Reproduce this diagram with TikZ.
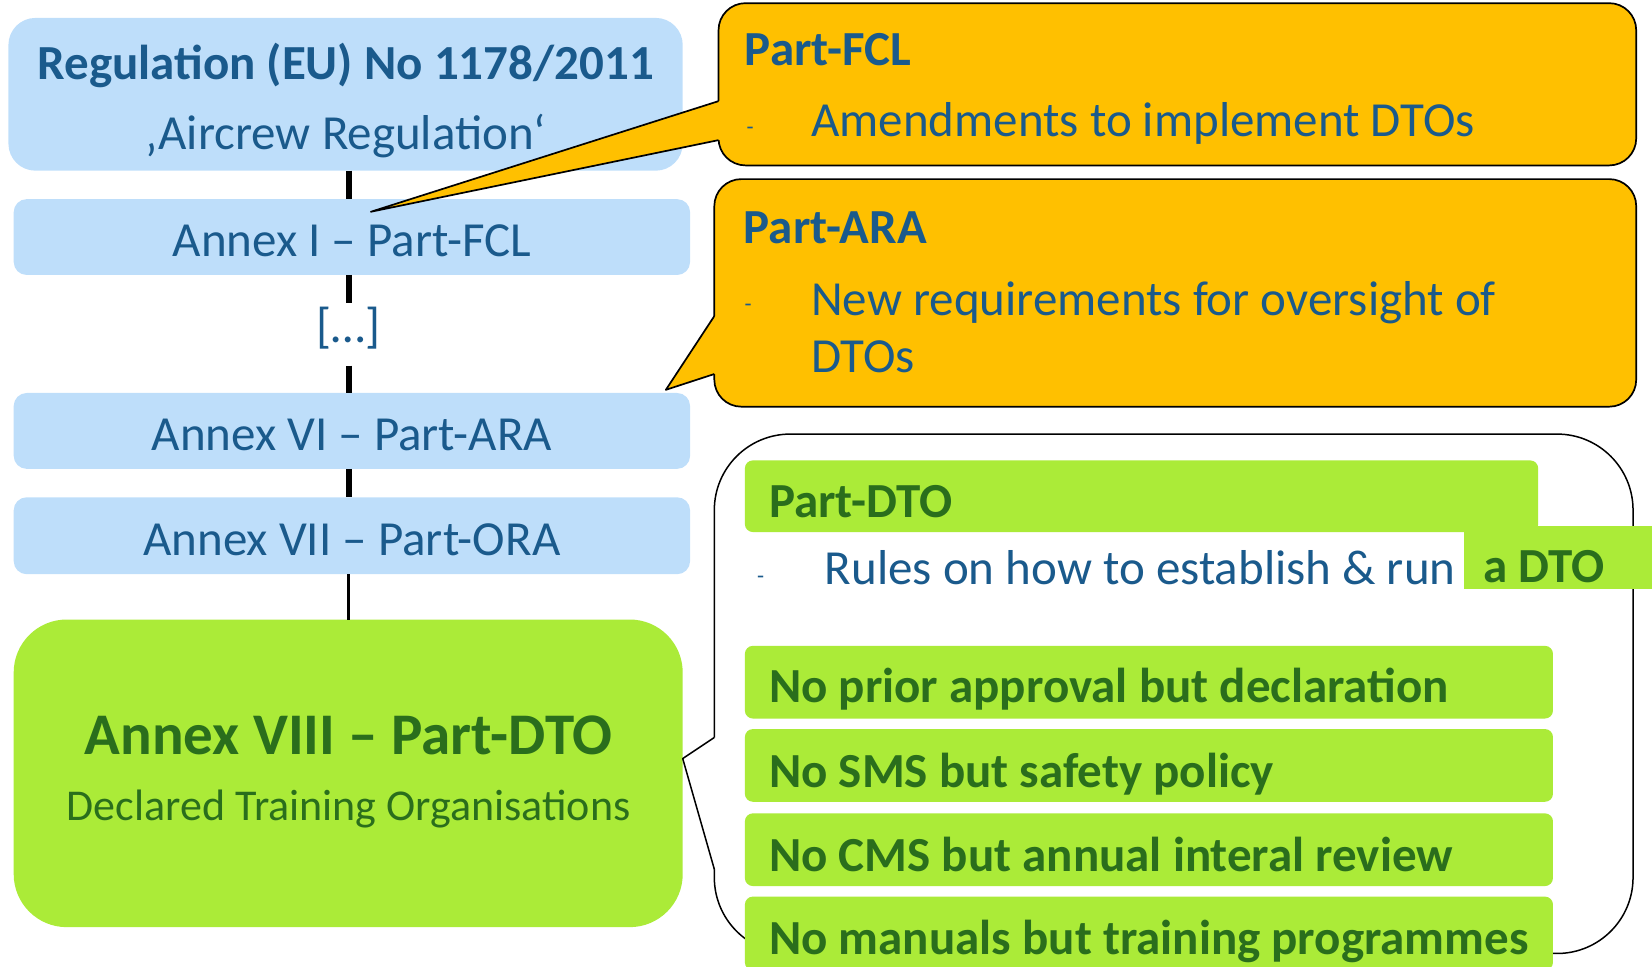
\documentclass[tikz,border=0pt]{standalone}
\usepackage{fontspec}
\setmainfont{Carlito}
\usetikzlibrary{fit}
\definecolor{bluefill}{HTML}{BEDEFA}
\definecolor{bluetext}{HTML}{1A5A8C}
\definecolor{greenfill}{HTML}{ABEB38}
\definecolor{greentext}{HTML}{2A6E1C}
\definecolor{orangefill}{HTML}{FFC000}
\tikzset{
  box/.style={draw=none, inner sep=0pt, outer sep=0pt},
  bluebox/.style={box, fill=bluefill, rounded corners=13pt},
  greenbar/.style={box, fill=greenfill, rounded corners=8pt},
  callbox/.style={box, fill=orangefill, draw=black, line width=1.7pt, rounded corners=27pt},
  outline/.style={draw=black, line width=1.7pt, line join=round},
  conn/.style={draw=black, line width=6pt},
  txt/.style={inner sep=0pt, outer sep=0pt},
  f46/.style={font=\fontsize{49}{58}\selectfont},
  b46/.style={font=\bfseries\fontsize{49}{58}\selectfont},
  bl/.style={txt, text=bluetext},
  gr/.style={txt, text=greentext},
  dashmark/.style={txt, text=bluetext, font=\fontsize{23}{27}\selectfont, anchor=center},
}
\begin{document}
\begin{tikzpicture}[x=1.0536pt, y=-1.0536pt]
\useasboundingbox (0,0) rectangle (1568,916.9);

% ---------- left column ----------
\node[bluebox, rounded corners=27pt, fit={(8,17) (648,162)}] (reg) {};
\node[bl, b46, anchor=base] (regt) at (328,75) {Regulation (EU) No 1178/2011};
\node[bl, f46, anchor=base] (regs) at (328,142) {‚Aircrew Regulation‘};

\node[bluebox, fit={(13,189) (655,261)}] (fcl) {};
\node[bl, f46, anchor=base] (fclt) at (334,243) {Annex I – Part-FCL};

\node[bl, f46, anchor=center] (dots) at (331,311) {[…]};
\coordinate (dtop) at (331,288);
\coordinate (dbot) at (331,347);

\node[bluebox, fit={(13,373) (655,445)}] (ara) {};
\node[bl, f46, anchor=base] (arat) at (334,428) {Annex VI – Part-ARA};

\node[bluebox, fit={(13,472) (655,545)}] (ora) {};
\node[bl, f46, anchor=base] (orat) at (334,527) {Annex VII – Part-ORA};

\node[box, fill=greenfill, rounded corners=53pt, fit={(13,588) (648,880)}] (dto) {};
\node[gr, anchor=base, font=\bfseries\fontsize{59}{70}\selectfont] (dtot) at (331,716) {Annex VIII – Part-DTO};
\node[gr, anchor=base, font=\fontsize{44}{52}\selectfont] (dtos) at (331,779) {Declared Training Organisations};

% connectors
\draw[conn] (reg.south -| dots) -- (fcl.north -| dots);
\draw[conn] (fcl.south -| dots) -- (dtop);
\draw[conn] (dbot) -- (ara.north -| dots);
\draw[conn] (ara.south -| dots) -- (ora.north -| dots);
\draw[conn, line width=3.5pt] (ora.south -| dots) -- (dto.north -| dots);

% ---------- orange callout 1 ----------
\node[callbox, fit={(682,3) (1553,157)}] (cfcl) {};
\coordinate (tipa) at (352,201);
\fill[orangefill] (690,96) -- (682,96) -- (tipa) -- (682,133) -- (690,133) -- cycle;
\draw[outline] (682,96) -- (tipa) -- (682,133);
\node[bl, b46, anchor=base west] (cfclt) at (707,62) {Part-FCL};
\node[dashmark] (cfcld) at (712,124) {-};
\node[bl, f46, anchor=base west] (cfclb) at (770,130) {Amendments to implement DTOs};

% ---------- orange callout 2 ----------
\node[callbox, fit={(678,170) (1553,386)}] (cara) {};
\coordinate (tipb) at (632,370);
\fill[orangefill] (686,300) -- (678,300) -- (tipb) -- (678,355) -- (686,355) -- cycle;
\draw[outline] (678,300) -- (tipb) -- (678,355);
\node[bl, b46, anchor=base west] (carat) at (706,231) {Part-ARA};
\node[dashmark] (carad) at (710,292) {-};
\node[bl, f46, anchor=base west] (carab) at (770,299) {New requirements for oversight of};
\node[bl, f46, anchor=base west] (carac) at (770,354) {DTOs};

% ---------- white callout ----------
\node[box, fill=white, draw=black, line width=1.5pt, rounded corners=76pt, fit={(678,412) (1550,905)}] (cdto) {};
\coordinate (tipc) at (648,720);
\fill[white] (686,700) -- (678,700) -- (tipc) -- (678,825) -- (686,825) -- cycle;
\draw[outline, line width=1.5pt] (678,700) -- (tipc) -- (678,825);

\node[greenbar, fit={(707,437) (1460,505)}] (pdto) {};
\node[greenbar, rounded corners=0pt, fit={(1390,499) (1568,559)}] (adto) {};
\node[gr, b46, anchor=base west] (pdtot) at (730,491) {Part-DTO};
\node[dashmark] (pdtod) at (722,550) {-};
\node[bl, f46, anchor=base west] (pdtob) at (783,555) {Rules on how to establish \& run};
\node[gr, b46, anchor=base west] (adtot) at (1408,553) {a DTO};

\node[greenbar, fit={(707,613) (1474,682)}] (bar1) {};
\node[gr, b46, anchor=base west] (bar1t) at (730,667) {No prior approval but declaration};
\node[greenbar, fit={(707,692) (1474,761)}] (bar2) {};
\node[gr, b46, anchor=base west] (bar2t) at (730,747) {No SMS but safety policy};
\node[greenbar, fit={(707,772) (1474,841)}] (bar3) {};
\node[gr, b46, anchor=base west] (bar3t) at (730,827) {No CMS but annual interal review};
\node[greenbar, fit={(707,851) (1474,921)}] (bar4) {};
\node[gr, b46, anchor=base west] (bar4t) at (730,906) {No manuals but training programmes};
\end{tikzpicture}
\end{document}
